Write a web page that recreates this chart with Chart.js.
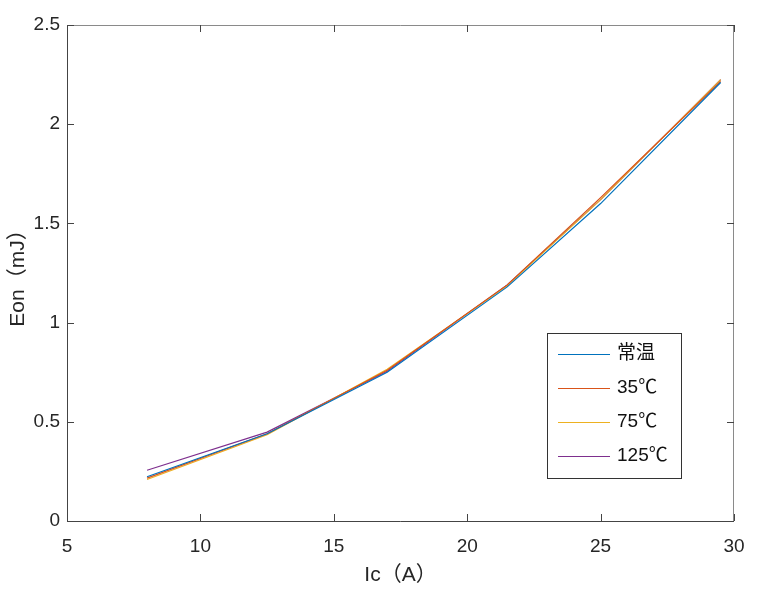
<!DOCTYPE html>
<html>
<head>
<meta charset="utf-8">
<script src="https://cdn.jsdelivr.net/npm/chart.js@4.4.1/dist/chart.umd.min.js"></script>
<style>
  html, body { margin: 0; padding: 0; background: #fff; }
  #wrap { width: 757px; height: 593px; position: relative; }
</style>
</head>
<body>
<div id="wrap"><canvas id="eon-chart"></canvas></div>
<script>
// Ic (A) sample points
const currents = [8, 12.5, 17, 21.5, 25, 29.5];
// Eon (mJ) per temperature
const eonRoom = [0.223, 0.44, 0.75, 1.18, 1.60, 2.21];
const eon35 = [0.216, 0.44, 0.76, 1.19, 1.63, 2.215];
const eon75 = [0.209, 0.435, 0.765, 1.185, 1.62, 2.225];
const eon125 = [0.256, 0.448, 0.755, 1.19, 1.62, 2.225];

const seriesLabels = ['常温', '35℃', '75℃', '125℃'];
const seriesColors = ['#0072BD', '#D95319', '#EDB120', '#7E2F8E'];
const xTicks = [5, 10, 15, 20, 25, 30];
const yTicks = [0, 0.5, 1, 1.5, 2, 2.5];

const fontFamily = '"Liberation Sans", Arial, "Noto Sans CJK SC", sans-serif';
const textColor = '#262626';

const toPoints = ys => ys.map((y, i) => ({ x: currents[i], y }));

// MATLAB-ish box with inward ticks on all four sides
const boxTicks = {
  id: 'boxTicks',
  afterDraw(chart) {
    const { ctx, chartArea: a, scales: { x, y } } = chart;
    const len = 7;
    ctx.save();
    ctx.lineWidth = 1;
    ctx.strokeStyle = '#444';
    ctx.beginPath();
    ctx.moveTo(a.left + 0.5, a.top);
    ctx.lineTo(a.left + 0.5, a.bottom + 0.5);
    ctx.lineTo(a.right, a.bottom + 0.5);
    ctx.stroke();
    ctx.strokeStyle = '#8a8a8a';
    ctx.beginPath();
    ctx.moveTo(a.left, a.top + 0.5);
    ctx.lineTo(a.right - 0.5, a.top + 0.5);
    ctx.lineTo(a.right - 0.5, a.bottom);
    ctx.stroke();
    ctx.strokeStyle = '#444';
    ctx.beginPath();
    xTicks.forEach(v => {
      const px = Math.round(x.getPixelForValue(v)) + 0.5;
      ctx.moveTo(px, a.bottom); ctx.lineTo(px, a.bottom - len);
      ctx.moveTo(px, a.top); ctx.lineTo(px, a.top + len);
    });
    yTicks.forEach(v => {
      const py = Math.round(y.getPixelForValue(v)) + 0.5;
      ctx.moveTo(a.left, py); ctx.lineTo(a.left + len, py);
      ctx.moveTo(a.right, py); ctx.lineTo(a.right - len, py);
    });
    ctx.stroke();

    // legend inside the plot
    const lx = 547, ly = 333, lw = 134, lh = 145;
    ctx.fillStyle = '#fff';
    ctx.fillRect(lx, ly, lw, lh);
    ctx.strokeStyle = '#333';
    ctx.strokeRect(lx + 0.5, ly + 0.5, lw, lh);
    ctx.font = '19px ' + fontFamily;
    ctx.textBaseline = 'middle';
    chart.data.datasets.forEach((ds, i) => {
      const rowY = 354 + i * 34;
      ctx.strokeStyle = ds.borderColor;
      ctx.lineWidth = 1.2;
      ctx.beginPath();
      ctx.moveTo(558, rowY + 0.5); ctx.lineTo(610, rowY + 0.5);
      ctx.stroke();
      ctx.fillStyle = '#111';
      ctx.fillText(ds.label, 617, rowY);
    });
    ctx.restore();
  }
};

const data = {
  datasets: [eonRoom, eon35, eon75, eon125].map((ys, i) => ({
    label: seriesLabels[i],
    data: toPoints(ys),
    borderColor: seriesColors[i],
    backgroundColor: seriesColors[i],
    borderWidth: 1.2,
    pointRadius: 0,
    fill: false,
    tension: 0
  }))
};

const config = {
  type: 'line',
  data,
  plugins: [boxTicks],
  options: {
    responsive: false,
    animation: false,
    events: [],
    layout: { padding: { top: 25, right: 23, left: 0, bottom: 0 } },
    plugins: {
      legend: { display: false },
      tooltip: { enabled: false }
    },
    scales: {
      x: {
        type: 'linear',
        min: 5,
        max: 30,
        afterBuildTicks: s => { s.ticks = xTicks.map(v => ({ value: v })); },
        afterFit: s => { s.height = 72; },
        grid: { display: false },
        border: { display: false },
        ticks: {
          padding: 6,
          maxRotation: 0,
          color: textColor,
          font: { family: fontFamily, size: 19 },
          callback: v => String(v)
        },
        title: {
          display: true,
          text: 'Ic（A）',
          color: textColor,
          padding: { top: 0, bottom: 5 },
          font: { family: fontFamily, size: 21 }
        }
      },
      y: {
        type: 'linear',
        min: 0,
        max: 2.5,
        afterBuildTicks: s => { s.ticks = yTicks.map(v => ({ value: v })); },
        afterFit: s => { s.width = 67; },
        grid: { display: false },
        border: { display: false },
        ticks: {
          padding: -1,
          color: textColor,
          font: { family: fontFamily, size: 19 },
          callback: v => String(v)
        },
        title: {
          display: true,
          text: 'Eon（mJ）',
          color: textColor,
          padding: { top: 6, bottom: 0 },
          align: 'center',
          font: { family: fontFamily, size: 21 }
        }
      }
    }
  }
};

const canvas = document.getElementById('eon-chart');
canvas.width = 757;
canvas.height = 593;
const eonChart = new Chart(canvas.getContext('2d'), config);
</script>
</body>
</html>
